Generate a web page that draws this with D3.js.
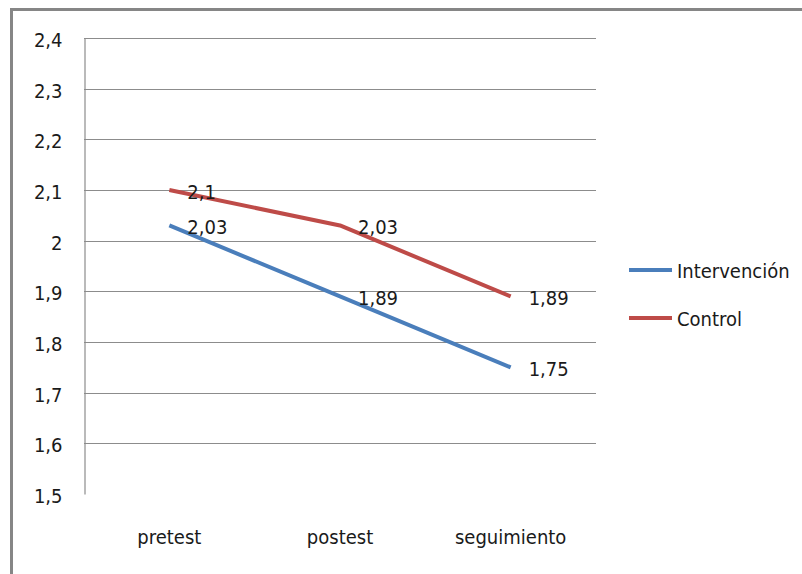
<!DOCTYPE html>
<html>
<head>
<meta charset="utf-8">
<script src="https://cdn.jsdelivr.net/npm/d3@7/dist/d3.min.js"></script>
<style>
  html, body { margin: 0; padding: 0; background: #fff; }
  svg text { font-family: "DejaVu Sans Condensed", "Open Sans", sans-serif; fill: #1a1a1a; }
</style>
</head>
<body>
<svg id="chart" width="802" height="574"></svg>
<script>
// Categories and series
const categories = ["pretest", "postest", "seguimiento"];
const intervencion = [2.03, 1.89, 1.75];
const control = [2.1, 2.03, 1.89];
const seriesNames = ["Intervención", "Control"];
const seriesColors = ["#4A7EBB", "#BE4B48"];
const yTicks = [1.5, 1.6, 1.7, 1.8, 1.9, 2.0, 2.1, 2.2, 2.3, 2.4];

const FONT = 20;
const svg = d3.select("#chart");
const fmt = v => String(+v.toFixed(2)).replace(".", ",");

// Frame of the chart area
svg.append("path")
  .attr("d", "M11.5,574 L11.5,9.5 L802,9.5")
  .attr("fill", "none").attr("stroke", "#868686").attr("stroke-width", 3);

const plot = { left: 84, right: 596, top: 38, bottom: 494 };

const x = d3.scaleBand().domain(categories).range([plot.left, plot.right]);
const y = d3.scaleLinear().domain([1.5, 2.4]).range([plot.bottom, plot.top]);

// Horizontal gridlines
svg.append("g").selectAll("line")
  .data(yTicks.filter(t => t > 1.5))
  .join("line")
  .attr("x1", plot.left).attr("x2", plot.right)
  .attr("y1", d => Math.round(y(d)) + 0.5).attr("y2", d => Math.round(y(d)) + 0.5)
  .attr("stroke", "#8c8c8c").attr("stroke-width", 1.2);

// Y axis
const yAxis = svg.append("g")
  .attr("transform", `translate(${plot.left + 0.5},0)`)
  .call(d3.axisLeft(y).tickValues(yTicks).tickSize(0).tickPadding(22).tickFormat(fmt))
  .attr("font-family", null).attr("font-size", null);
yAxis.select(".domain").attr("stroke", "#8c8c8c").attr("stroke-width", 1.2);
yAxis.selectAll("text").attr("font-size", FONT).attr("fill", "#1a1a1a").attr("dy", "0.42em");

// X axis labels (no axis line)
const xAxis = svg.append("g")
  .attr("transform", `translate(0,${plot.bottom})`)
  .call(d3.axisBottom(x).tickSize(0).tickPadding(36))
  .attr("font-family", null).attr("font-size", null);
xAxis.select(".domain").remove();
xAxis.selectAll("text").attr("font-size", FONT).attr("fill", "#1a1a1a");

const cx = c => x(c) + x.bandwidth() / 2;
const line = d3.line().x((d, i) => cx(categories[i])).y(d => y(d));

[intervencion, control].forEach((vals, s) => {
  svg.append("path")
    .datum(vals)
    .attr("d", line)
    .attr("fill", "none")
    .attr("stroke", seriesColors[s])
    .attr("stroke-width", 4)
    .attr("stroke-linejoin", "round");
});

// Data labels to the right of each point
[intervencion, control].forEach((vals, s) => {
  svg.append("g").selectAll("text")
    .data(vals)
    .join("text")
    .attr("x", (d, i) => cx(categories[i]) + 18)
    .attr("y", d => y(d))
    .attr("dy", "0.45em")
    .attr("font-size", FONT)
    .text(fmt);
});

// Legend
const legend = svg.append("g");
seriesNames.forEach((name, i) => {
  const ly = 270 + i * 48;
  legend.append("line")
    .attr("x1", 629).attr("x2", 672).attr("y1", ly).attr("y2", ly)
    .attr("stroke", seriesColors[i]).attr("stroke-width", 4);
  legend.append("text")
    .attr("x", 677).attr("y", ly).attr("dy", "0.38em")
    .attr("font-size", FONT).text(name);
});
</script>
</body>
</html>
